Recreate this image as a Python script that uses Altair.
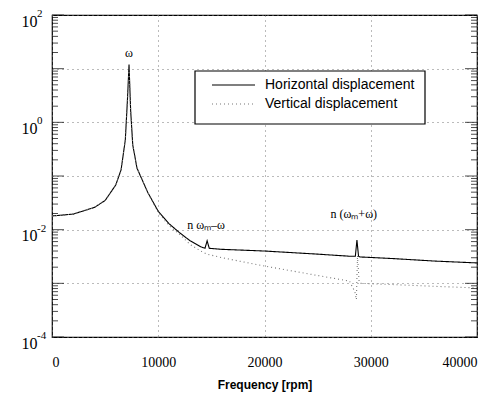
import altair as alt
import pandas as pd

# Horizontal displacement (solid)
freq_h = [0, 2000, 4000, 5000, 6000, 6500, 6900, 7100, 7250, 7400, 7600, 8000, 9000,
          10000, 11000, 12000, 13000, 14000, 14400, 14600, 14800, 16000, 20000, 25000,
          28000, 28550, 28700, 28850, 29000, 32000, 36000, 40000]
amp_h = [0.018, 0.0195, 0.026, 0.035, 0.068, 0.13, 0.47, 2.6, 12.0, 1.7, 0.38, 0.14, 0.05,
         0.022, 0.013, 0.0088, 0.0062, 0.0048, 0.0045, 0.0062, 0.0045, 0.0043, 0.0040, 0.0035,
         0.0032, 0.0032, 0.0064, 0.0032, 0.0031, 0.0029, 0.0026, 0.0024]

# Vertical displacement (dotted)
freq_v = [0, 2000, 4000, 5000, 6000, 6500, 6900, 7100, 7250, 7400, 7600, 8000, 9000,
          10000, 11000, 12000, 13000, 14000, 14600, 16000, 20000, 25000, 28000, 28500,
          28650, 28750, 28900, 29000, 32000, 36000, 40000]
amp_v = [0.018, 0.0195, 0.026, 0.035, 0.068, 0.13, 0.47, 2.6, 10.0, 1.7, 0.38, 0.14, 0.05,
         0.021, 0.012, 0.0082, 0.0053, 0.0040, 0.0035, 0.0030, 0.0021, 0.0014, 0.0011, 0.0007,
         0.0005, 0.0033, 0.0011, 0.0010, 0.00095, 0.00088, 0.00082]

series_names = ["Horizontal displacement", "Vertical displacement"]

ann_text = ["\u03c9", "n \u03c9\u2098\u2013\u03c9", "n (\u03c9\u2098+\u03c9)"]
ann_x = [7250, 14500, 28400]
ann_y = [14.5, 0.0092, 0.0145]

y_grid = [1e-4, 1e-3, 1e-2, 1e-1, 1, 10, 100]
y_label_vals = [1e-4, 1e-2, 1, 100]
y_exponents = ["-4", "-2", "0", "2"]
x_ticks = [0, 10000, 20000, 30000, 40000]
y_minor = [m * d for d in [1e-4, 1e-3, 1e-2, 1e-1, 1, 10] for m in [2, 3, 4, 5, 6, 7, 8, 9]]

rows = []
for f, a in zip(freq_h, amp_h):
    rows.append({"f": f, "a": a, "s": series_names[0], "o": len(rows)})
for f, a in zip(freq_v, amp_v):
    rows.append({"f": f, "a": a, "s": series_names[1], "o": len(rows)})
df = pd.DataFrame(rows)
ann = pd.DataFrame({"t": ann_text, "f": ann_x, "a": ann_y})
exps = pd.DataFrame({"a": y_label_vals, "e": y_exponents})
minor_df = pd.DataFrame({"a": y_minor})
major_df = pd.DataFrame({"a": y_grid})
one = pd.DataFrame({"k": [0]})

xscale = alt.Scale(domain=[0, 40000], nice=False)
yscale = alt.Scale(type="log", domain=[1e-4, 100], nice=False)

label_expr = ("(abs(datum.value - 100) < 1e-6 || abs(datum.value - 1) < 1e-6 || "
              "abs(datum.value - 0.01) < 1e-8 || abs(datum.value - 0.0001) < 1e-9) ? '10' : ''")

lines = alt.Chart(df).mark_line(strokeWidth=1.1).encode(
    x=alt.X("f:Q", scale=xscale,
            axis=alt.Axis(values=x_ticks, format="d", title="Frequency [rpm]", grid=True,
                          gridDash=[1, 4], gridColor="#777", ticks=False,
                          labelFont="Liberation Serif", labelFontSize=14, labelColor="black",
                          labelPadding=18, titleFont="Liberation Sans", titleFontSize=12,
                          titleFontWeight="bold", titlePadding=10, titleColor="black",
                          domain=False)),
    y=alt.Y("a:Q", scale=yscale,
            axis=alt.Axis(values=y_grid, labelExpr=label_expr, title=None, grid=True,
                          gridDash=[1, 4], gridColor="#777", ticks=False,
                          labelFont="Liberation Serif", labelFontSize=16, labelColor="black",
                          labelPadding=15, domain=False, labelBaseline="middle",
                          labelOffset=6)),
    color=alt.Color("s:N", scale=alt.Scale(domain=series_names, range=["black", "#777"]),
                    legend=None),
    strokeDash=alt.StrokeDash("s:N", scale=alt.Scale(domain=series_names,
                                                     range=[[1, 0], [1, 3]]), legend=None),
    order="o:Q",
    detail="s:N",
)

# inward ticks on left and right frame
minor_l = alt.Chart(minor_df).mark_tick(orient="horizontal", size=6, thickness=1,
                                        color="black").encode(
    x=alt.value(3), y=alt.Y("a:Q", scale=yscale))
minor_r = alt.Chart(minor_df).mark_tick(orient="horizontal", size=6, thickness=1,
                                        color="black").encode(
    x=alt.value(422), y=alt.Y("a:Q", scale=yscale))
major_l = alt.Chart(major_df).mark_tick(orient="horizontal", size=12, thickness=1,
                                        color="black").encode(
    x=alt.value(6), y=alt.Y("a:Q", scale=yscale))
major_r = alt.Chart(major_df).mark_tick(orient="horizontal", size=12, thickness=1,
                                        color="black").encode(
    x=alt.value(419), y=alt.Y("a:Q", scale=yscale))

exp_text = alt.Chart(exps).mark_text(font="Liberation Serif", fontSize=11, color="black",
                                     align="left", baseline="middle", dy=-1).encode(
    x=alt.value(-15), y=alt.Y("a:Q", scale=yscale), text="e:N")

text = alt.Chart(ann).mark_text(font="Liberation Serif", fontSize=12, color="black",
                                baseline="bottom").encode(
    x=alt.X("f:Q", scale=xscale), y=alt.Y("a:Q", scale=yscale), text="t:N")

# Legend box
box = alt.Chart(one).mark_rect(fill="white", stroke="black", strokeWidth=1.2).encode(
    x=alt.value(143), x2=alt.value(373), y=alt.value(56), y2=alt.value(109))
leg_line1 = alt.Chart(one).mark_rule(strokeWidth=1.1, color="black").encode(
    x=alt.value(160), x2=alt.value(203), y=alt.value(70))
leg_line2 = alt.Chart(one).mark_rule(strokeWidth=1.1, color="#777", strokeDash=[1, 3]).encode(
    x=alt.value(160), x2=alt.value(203), y=alt.value(89))
leg_text1 = alt.Chart(one).mark_text(font="Liberation Sans", fontSize=14, color="black",
                                     align="left", baseline="middle",
                                     text=series_names[0]).encode(
    x=alt.value(213), y=alt.value(70))
leg_text2 = alt.Chart(one).mark_text(font="Liberation Sans", fontSize=14, color="black",
                                     align="left", baseline="middle",
                                     text=series_names[1]).encode(
    x=alt.value(213), y=alt.value(89))

chart = alt.layer(lines, minor_l, minor_r, major_l, major_r, exp_text, text, box,
                  leg_line1, leg_line2, leg_text1, leg_text2).properties(
    width=425, height=322,
    autosize=alt.AutoSizeParams(type="none"),
    padding={"left": 44, "top": 7, "right": 10, "bottom": 55},
).configure_view(stroke="black", strokeWidth=1.2)

chart.save("out.html", embed_options={"renderer": "svg", "actions": False})
